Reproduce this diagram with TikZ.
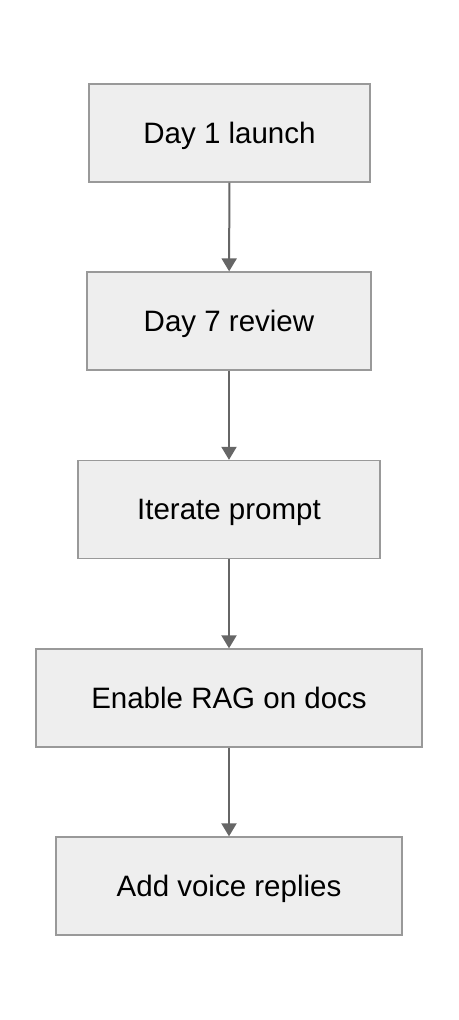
\documentclass[tikz,border=0pt]{standalone}
\usepackage{fontspec}
\setmainfont{Liberation Sans}
\usetikzlibrary{arrows.meta}
\definecolor{boxfill}{HTML}{EEEEEE}
\definecolor{boxline}{HTML}{999999}
\definecolor{linkgrey}{HTML}{666666}

\begin{document}
\begin{tikzpicture}[x=1pt,y=-1pt]
    \tikzset{%
      stage/.style={rectangle, draw=boxline, line width=1.3pt,
        fill=boxfill, inner sep=0pt, minimum height=98pt,
        text height=23pt, text depth=3pt,
        font=\fontsize{29.5}{34}\selectfont},
      link/.style={draw=linkgrey, line width=2pt,
        -{Triangle[length=13pt,width=15pt]}},
    }
    \useasboundingbox (0,0) rectangle (458,1020);
%stages
    \node[stage, minimum width=281pt] (A) at (229.5,133) {Day 1 launch};
    \node[stage, minimum width=284pt] (B) at (229,321) {Day 7 review};
    \node[stage, minimum width=302pt] (C) at (229,509.5) {Iterate prompt};
    \node[stage, minimum width=386pt] (D) at (229,698) {Enable RAG on docs};
    \node[stage, minimum width=346pt] (E) at (229,886) {Add voice replies};
%links
    \draw [link] (A) -- (B);
    \draw [link] (B) -- (C);
    \draw [link] (C) -- (D);
    \draw [link] (D) -- (E);
\end{tikzpicture}
\end{document}
